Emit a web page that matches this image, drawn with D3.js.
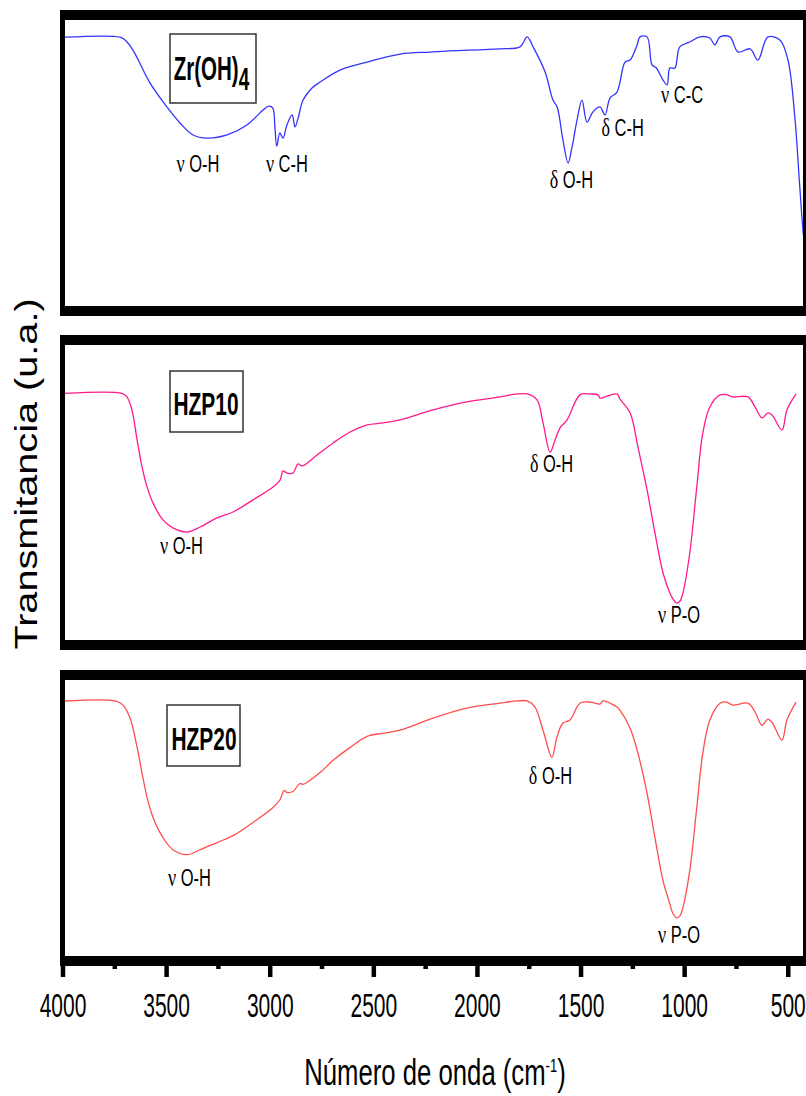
<!DOCTYPE html>
<html>
<head>
<meta charset="utf-8">
<script src="https://cdn.jsdelivr.net/npm/d3@7"></script>
<style>
  body { margin: 0; background: #fff; }
  svg { display: block; font-family: "Liberation Sans", Arial, sans-serif; }
</style>
</head>
<body>
<div id="chart"></div>
<script>
// spectra: [wavenumber cm-1, transmittance (arbitrary units, 0-100 per panel)]
const zrOH4 = [
  [3988,94.0],[3722,94.0],[3698,93.0],[3660,89.5],[3578,78.0],[3496,69.6],[3433,64.0],[3370,59.8],
  [3303,58.7],[3206,59.8],[3110,63.3],[3032,68.5],[3004,69.9],[2985,69.2],[2975,62.6],[2966,55.9],
  [2951,60.5],[2936,58.7],[2917,63.3],[2892,66.8],[2878,62.6],[2863,65.7],[2839,72.0],[2796,76.2],
  [2757,78.3],[2661,82.5],[2530,85.3],[2371,88.1],[2226,88.8],[2130,89.2],[1889,89.9],[1792,90.6],
  [1758,94.1],[1729,90.6],[1671,81.8],[1633,72.0],[1613,69.6],[1585,58.1],[1560,50.0],[1541,55.6],
  [1517,65.0],[1493,72.0],[1469,64.3],[1441,67.8],[1406,69.6],[1382,66.8],[1358,72.7],[1324,74.8],
  [1285,85.3],[1261,86.0],[1227,91.3],[1213,94.1],[1179,94.1],[1155,84.3],[1134,83.2],[1102,79.0],
  [1082,77.3],[1069,83.2],[1045,83.2],[1021,90.6],[973,92.3],[924,94.1],[876,93.7],[852,91.3],
  [827,94.1],[779,94.1],[740,88.8],[682,89.9],[644,86.0],[596,94.1],[538,93.0],[499,86.0],
  [466,66.1],[442,41.6],[423,24.0],[413,20.0]
];
const hzp10 = [
  [3988,83.6],[3713,83.6],[3689,82.4],[3665,78.0],[3640,67.8],[3616,58.6],[3592,51.9],[3563,46.4],
  [3515,40.7],[3467,38.0],[3399,36.6],[3336,38.3],[3254,41.4],[3177,43.4],[3081,47.5],[2984,51.9],
  [2950,54.2],[2936,57.3],[2917,56.6],[2888,56.6],[2863,59.7],[2844,59.0],[2772,62.7],[2694,66.8],
  [2612,70.5],[2530,72.9],[2453,73.6],[2371,74.6],[2212,78.0],[2048,80.7],[1889,82.4],[1807,83.4],
  [1758,83.4],[1710,81.4],[1681,73.6],[1647,63.7],[1623,67.8],[1599,71.9],[1565,74.6],[1503,83.1],
  [1454,83.4],[1416,83.1],[1406,82.0],[1382,82.4],[1324,83.4],[1310,81.7],[1261,77.0],[1223,65.4],
  [1179,50.9],[1141,36.3],[1102,22.7],[1069,15.9],[1055,14.0],[1035,12.5],[1020,13.2],[1006,15.9],
  [973,29.5],[939,51.9],[910,70.2],[876,79.0],[827,83.1],[794,83.1],[765,82.4],[692,82.4],
  [658,79.0],[624,75.3],[596,77.0],[576,76.3],[528,71.2],[504,78.0],[460,83.4]
];
const hzp20 = [
  [3988,92.4],[3747,92.4],[3708,90.9],[3674,86.2],[3640,75.6],[3616,66.2],[3592,57.5],[3563,50.2],
  [3515,42.9],[3467,38.5],[3399,36.7],[3336,38.5],[3254,41.1],[3177,43.6],[3081,48.4],[2984,53.8],
  [2950,56.7],[2930,60.0],[2917,59.3],[2888,59.6],[2854,62.5],[2839,62.2],[2757,66.5],[2694,70.9],
  [2612,75.6],[2530,79.6],[2453,80.7],[2371,81.8],[2212,86.2],[2048,89.8],[1889,91.6],[1807,92.4],
  [1758,92.4],[1720,90.2],[1681,81.8],[1638,72.0],[1614,79.3],[1585,84.4],[1551,85.5],[1503,91.6],
  [1454,92.0],[1406,91.3],[1392,92.4],[1324,90.2],[1310,89.1],[1261,82.5],[1223,73.5],[1179,58.9],
  [1141,42.9],[1102,27.3],[1069,18.9],[1055,15.6],[1035,13.8],[1020,14.6],[1006,17.5],[973,30.9],
  [939,53.8],[910,73.5],[876,85.5],[827,91.6],[794,92.0],[765,90.9],[692,91.6],[658,88.4],
  [624,83.6],[596,85.8],[576,84.7],[528,78.2],[504,85.5],[460,92.0]
];

// band labels: [greek, bond, wavenumber (centre), transmittance (baseline)]
const zrBands = [["ν","O-H",3346,46.9],["ν","C-H",2917,46.9],["δ","O-H",1544,41.3],["δ","C-H",1297,59.4],["ν","C-C",1010,71.0]];
const hzp10Bands = [["ν","O-H",3426,29.2],["δ","O-H",1640,57.0],["ν","P-O",1025,5.8]];
const hzp20Bands = [["ν","O-H",3387,25.5],["δ","O-H",1645,62.5],["ν","P-O",1025,4.7]];

const sampleNames = ["Zr(OH)4", "HZP10", "HZP20"];
const lineColors = ["#3434ff", "#ff1a8c", "#ff4d4d"];
const majorTicks = [4000, 3500, 3000, 2500, 2000, 1500, 1000, 500];
const minorTicks = [3750, 3250, 2750, 2250, 1750, 1250, 750];

const width = 806, height = 1096;

const panels = [
  { top: 10, h: 306, data: zrOH4, bands: zrBands, box: [170, 34, 86, 69], label: [211.5, 80] },
  { top: 335, h: 315, data: hzp10, bands: hzp10Bands, box: [170, 371, 73, 61], label: [206, 415] },
  { top: 670, h: 296, data: hzp20, bands: hzp20Bands, box: [167, 705, 73, 61], label: [204, 750] }
];

const svg = d3.select("#chart").append("svg")
  .attr("width", width)
  .attr("height", height);

const x = d3.scaleLinear().domain([4000, 412]).range([62.5, 806]);

panels.forEach((p, i) => {
  const y = d3.scaleLinear().domain([0, 100]).range([p.top + p.h - 10, p.top + 10]);
  const g = svg.append("g");

  // spectrum
  const line = d3.line()
    .x(d => x(d[0]))
    .y(d => y(d[1]))
    .curve(d3.curveCatmullRom.alpha(0.5));

  g.append("path")
    .datum(p.data)
    .attr("fill", "none")
    .attr("stroke", lineColors[i])
    .attr("stroke-width", 1.3)
    .attr("d", line);

  // frame (thick black)
  g.append("line").attr("x1", 60).attr("x2", width).attr("y1", p.top + 5).attr("y2", p.top + 5)
    .attr("stroke", "#000").attr("stroke-width", 10);
  g.append("line").attr("x1", 60).attr("x2", width).attr("y1", p.top + p.h - 5).attr("y2", p.top + p.h - 5)
    .attr("stroke", "#000").attr("stroke-width", 10);
  g.append("line").attr("x1", 62.5).attr("x2", 62.5).attr("y1", p.top).attr("y2", p.top + p.h)
    .attr("stroke", "#000").attr("stroke-width", 5);
  g.append("line").attr("x1", 805.5).attr("x2", 805.5).attr("y1", p.top).attr("y2", p.top + p.h)
    .attr("stroke", "#000").attr("stroke-width", 5);

  // sample name box
  g.append("rect")
    .attr("x", p.box[0]).attr("y", p.box[1])
    .attr("width", p.box[2]).attr("height", p.box[3])
    .attr("fill", "none").attr("stroke", "#333").attr("stroke-width", 1.5);

  const name = g.append("text")
    .attr("text-anchor", "middle")
    .attr("font-weight", "bold")
    .attr("fill", "#000")
    .attr("transform", `translate(${p.label[0]},${p.label[1]}) scale(1,${i === 0 ? 1.62 : 1.54})`);
  if (i === 0) {
    name.attr("font-size", 20.5);
    name.append("tspan").text("Zr(OH)");
    name.append("tspan").attr("font-size", 19).attr("dy", 6).text("4");
  } else {
    name.attr("font-size", 20.9).text(sampleNames[i]);
  }

  // band labels
  p.bands.forEach(b => {
    const t = g.append("text")
      .attr("text-anchor", "middle")
      .attr("font-size", 16.5)
      .attr("fill", "#000")
      .attr("transform", `translate(${x(b[2])},${y(b[3])}) scale(1,1.45)`);
    t.append("tspan").attr("font-family", "'Liberation Serif', serif").attr("font-size", 18).text(b[0]);
    t.append("tspan").text(" " + b[1]);
  });
});

// x axis under the last panel
const axisY = panels[2].top + panels[2].h;
const minorAxis = svg.append("g")
  .attr("transform", `translate(0,${axisY})`)
  .call(d3.axisBottom(x).tickValues(minorTicks).tickSize(3).tickFormat(""));
minorAxis.select(".domain").remove();
minorAxis.selectAll(".tick line").attr("stroke", "#000").attr("stroke-width", 4.5);

const majorAxis = svg.append("g")
  .attr("transform", `translate(0,${axisY})`)
  .call(d3.axisBottom(x).tickValues(majorTicks).tickSize(11).tickFormat(d3.format("d")));
majorAxis.select(".domain").remove();
majorAxis.attr("font-family", "'Liberation Sans', Arial, sans-serif").attr("font-size", 21);
majorAxis.selectAll(".tick line").attr("stroke", "#000").attr("stroke-width", 4.5);
majorAxis.selectAll(".tick text")
  .attr("y", 0).attr("dy", 0)
  .attr("fill", "#000")
  .attr("transform", "translate(0,51) scale(1,1.6)");

// axis titles
const xTitle = svg.append("text")
  .attr("text-anchor", "middle")
  .attr("font-size", 25.7)
  .attr("fill", "#000")
  .attr("transform", "translate(435,1085) scale(1,1.45)");
xTitle.append("tspan").text("Número de onda (cm");
xTitle.append("tspan").attr("font-size", 13).attr("dy", -9).text("-1");
xTitle.append("tspan").attr("dy", 9).text(")");

svg.append("text")
  .attr("text-anchor", "middle")
  .attr("font-size", 32)
  .attr("fill", "#000")
  .attr("transform", "translate(37,474) rotate(-90) scale(1.24,1)")
  .text("Transmitancia (u.a.)");
</script>
</body>
</html>
